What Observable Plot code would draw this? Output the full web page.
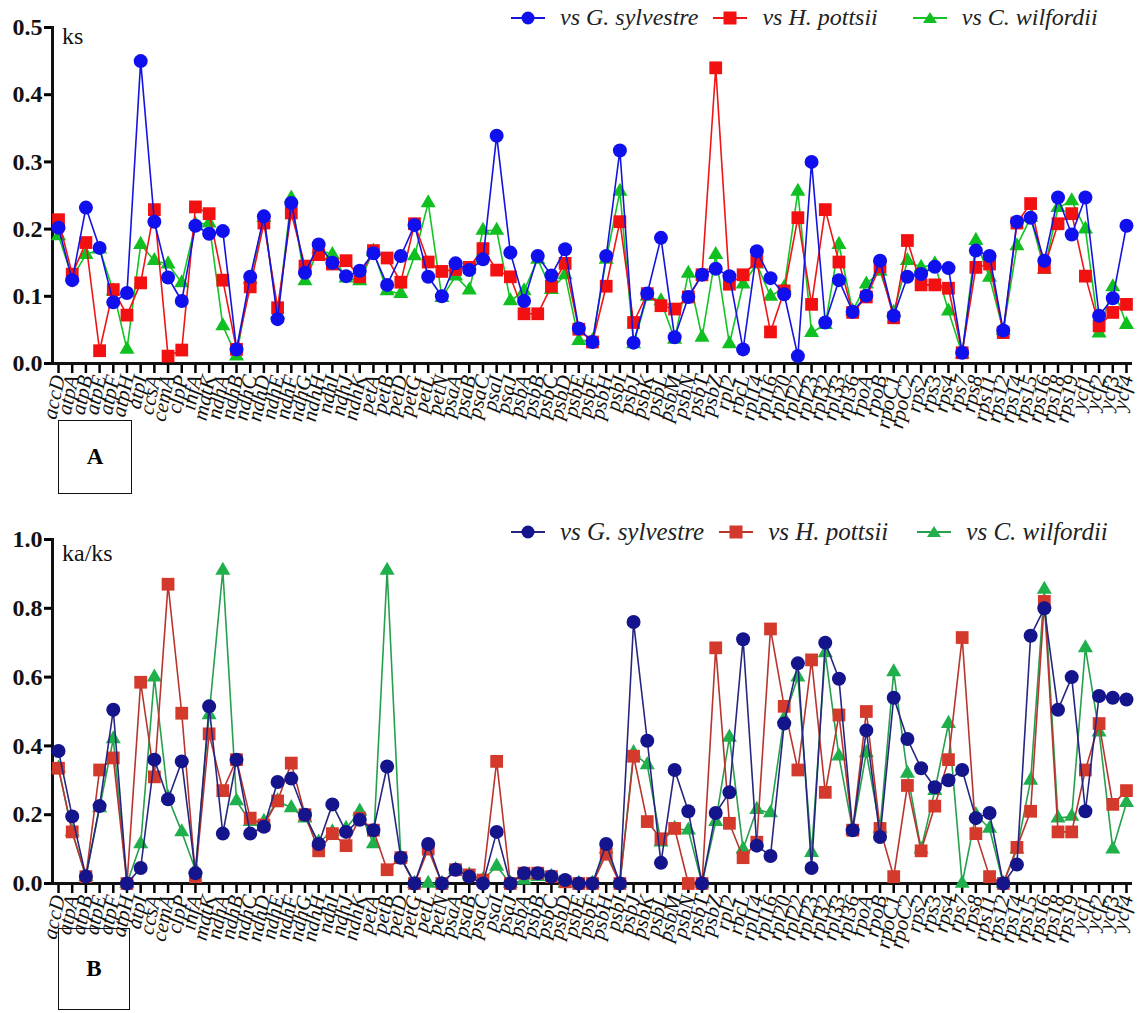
<!DOCTYPE html>
<html><head><meta charset="utf-8">
<script src="https://cdn.jsdelivr.net/npm/d3@7"></script>
<script src="https://cdn.jsdelivr.net/npm/@observablehq/plot@0.6"></script>
<style>
body{margin:0;background:#fff;font-family:"Liberation Serif","Times New Roman",serif;}
#wrap{position:relative;width:1147px;height:1013px;overflow:hidden;background:#fff;}
.panel{position:absolute;left:0;}
.legend{position:absolute;display:flex;align-items:center;font-style:italic;color:#222;white-space:nowrap;}
.legend .item{display:flex;align-items:center;}
.legend svg{margin-right:14px;}
.lab{position:absolute;color:#111;}
.box{position:absolute;border:1.5px solid #111;font-weight:bold;display:flex;align-items:center;justify-content:center;font-size:23px;}
</style></head>
<body><div id="wrap"></div>
<script>
const genes = ["accD","atpA","atpB","atpE","atpF","atpH","atpI","ccsA","cemA","clpP","infA","matK","ndhA","ndhB","ndhC","ndhD","ndhE","ndhF","ndhG","ndhH","ndhI","ndhJ","ndhK","petA","petB","petD","petG","petL","petN","psaA","psaB","psaC","psaI","psaJ","psbA","psbB","psbC","psbD","psbE","psbF","psbH","psbI","psbJ","psbK","psbL","psbM","psbN","psbT","psbZ","rpl2","rbcL","rpl14","rpl16","rpl20","rpl22","rpl23","rpl32","rpl33","rpl36","rpoA","rpoB","rpoC1","rpoC2","rps2","rps3","rps4","rps7","rps8","rps11","rps12","rps14","rps15","rps16","rps18","rps19","ycf1","ycf2","ycf3","ycf4"];

const seriesNames = ["vs G. sylvestre","vs H. pottsii","vs C. wilfordii"];

// Panel A: ks
const ksSylvestre = [0.202,0.124,0.232,0.172,0.091,0.105,0.450,0.211,0.128,0.093,0.205,0.193,0.197,0.021,0.129,0.219,0.066,0.239,0.135,0.177,0.150,0.130,0.138,0.164,0.117,0.160,0.206,0.129,0.100,0.149,0.139,0.155,0.339,0.165,0.093,0.160,0.131,0.170,0.052,0.032,0.160,0.317,0.031,0.104,0.187,0.039,0.099,0.132,0.141,0.130,0.021,0.167,0.127,0.103,0.011,0.300,0.061,0.124,0.077,0.101,0.153,0.071,0.129,0.133,0.144,0.142,0.016,0.168,0.160,0.049,0.211,0.217,0.153,0.247,0.192,0.247,0.071,0.097,0.205];
const ksPottsii = [0.214,0.133,0.180,0.019,0.110,0.072,0.120,0.229,0.011,0.020,0.233,0.223,0.124,0.021,0.114,0.209,0.083,0.224,0.145,0.162,0.148,0.153,0.129,0.168,0.157,0.121,0.208,0.151,0.137,0.140,0.143,0.171,0.139,0.129,0.074,0.074,0.115,0.149,0.051,0.032,0.115,0.211,0.061,0.104,0.086,0.081,0.099,0.132,0.440,0.118,0.132,0.152,0.047,0.108,0.217,0.088,0.229,0.151,0.076,0.099,0.144,0.068,0.183,0.117,0.117,0.112,0.016,0.143,0.148,0.046,0.209,0.238,0.143,0.208,0.223,0.130,0.056,0.076,0.088];
const ksWilfordii = [0.190,0.128,0.162,0.170,0.108,0.021,0.177,0.153,0.148,0.120,0.207,0.209,0.056,0.011,0.125,0.217,0.073,0.246,0.123,0.170,0.162,0.127,0.123,0.167,0.108,0.104,0.160,0.239,0.098,0.130,0.109,0.198,0.198,0.093,0.108,0.155,0.110,0.132,0.034,0.034,0.155,0.256,0.029,0.100,0.093,0.036,0.134,0.039,0.162,0.029,0.118,0.148,0.100,0.113,0.256,0.046,0.058,0.177,0.078,0.118,0.137,0.076,0.153,0.143,0.148,0.078,0.014,0.183,0.128,0.049,0.175,0.217,0.140,0.232,0.242,0.200,0.045,0.114,0.058];

// Panel B: ka/ks
const kaksSylvestre = [0.385,0.195,0.020,0.225,0.505,0.000,0.045,0.360,0.245,0.355,0.030,0.515,0.145,0.360,0.145,0.165,0.295,0.305,0.200,0.115,0.230,0.150,0.185,0.155,0.340,0.075,0.000,0.115,0.000,0.040,0.020,0.000,0.150,0.000,0.030,0.030,0.020,0.010,0.000,0.000,0.115,0.000,0.760,0.415,0.060,0.330,0.210,0.000,0.205,0.265,0.710,0.110,0.080,0.465,0.640,0.045,0.700,0.595,0.155,0.445,0.135,0.540,0.420,0.335,0.280,0.300,0.330,0.190,0.205,0.000,0.055,0.720,0.800,0.505,0.600,0.210,0.545,0.540,0.535];
const kaksPottsii = [0.335,0.150,0.020,0.330,0.365,0.000,0.585,0.310,0.870,0.495,0.020,0.435,0.270,0.360,0.190,0.170,0.240,0.350,0.200,0.095,0.145,0.110,0.190,0.155,0.040,0.075,0.000,0.100,0.000,0.040,0.025,0.010,0.355,0.000,0.030,0.030,0.020,0.005,0.000,0.000,0.085,0.000,0.370,0.180,0.130,0.160,0.000,0.000,0.685,0.175,0.075,0.120,0.740,0.515,0.330,0.650,0.265,0.490,0.155,0.500,0.160,0.020,0.285,0.095,0.225,0.360,0.715,0.145,0.020,0.000,0.105,0.210,0.820,0.150,0.150,0.330,0.465,0.230,0.270];
const kaksWilfordii = [0.335,0.150,0.020,0.220,0.420,0.000,0.115,0.600,0.250,0.150,0.040,0.490,0.910,0.240,0.180,0.180,0.240,0.220,0.190,0.120,0.150,0.160,0.210,0.115,0.910,0.075,0.000,0.000,0.000,0.040,0.025,0.010,0.050,0.000,0.010,0.020,0.020,0.000,0.000,0.000,0.100,0.000,0.380,0.345,0.120,0.160,0.155,0.000,0.180,0.425,0.100,0.215,0.205,0.480,0.600,0.090,0.670,0.370,0.155,0.380,0.160,0.615,0.320,0.100,0.270,0.465,0.000,0.200,0.160,0.000,0.100,0.300,0.855,0.190,0.195,0.685,0.440,0.100,0.235];

const ksTicks = [0,0.1,0.2,0.3,0.4,0.5];
const kaksTicks = [0,0.2,0.4,0.6,0.8,1.0];

const styleA = {
  line: ["#1414e0","#f01414","#14c424"],
  fill: ["#1010ee","#f21010","#10c020"]
};
const styleB = {
  line: ["#262680","#b8352e","#27a04e"],
  fill: ["#14148c","#d43a2c","#1fb04c"]
};
const symbols = ["circle","square","triangle"];
const radii = [7,7.2,5.6];

const FONT = "Liberation Serif, Times New Roman, serif";

function rows(vals){ return genes.map((g,i)=>({gene:g, v:vals[i]})); }

function panel(seriesVals, yDomain, yTicks, style, marginTop){
  const order = [2,1,0];
  const marks = [];
  for (const k of order) {
    const d = rows(seriesVals[k]);
    marks.push(Plot.line(d,{x:"gene",y:"v",stroke:style.line[k],strokeWidth:1.6}));
    marks.push(Plot.dot(d,{x:"gene",y:"v",symbol:()=>symbols[k],r:radii[k],fill:style.fill[k],stroke:"none"}));
  }
  return Plot.plot({
    width:1147, height:445,
    marginLeft:52, marginRight:15, marginTop:marginTop, marginBottom:445-363,
    style:{fontFamily:FONT, background:"transparent", overflow:"visible"},
    x:{type:"point", domain:genes, padding:0.44},
    y:{domain:yDomain},
    symbol:{type:"identity"},
    marks:[
      Plot.axisY({ticks:yTicks, tickFormat:d3.format(".1f"), tickSize:8, tickPadding:2, strokeWidth:3, fontSize:24, fontWeight:"bold", fontFamily:FONT, fill:"#111", label:null}),
      Plot.axisX({tickSize:10, tickPadding:2, strokeWidth:2.5, tickRotate:-78, fontSize:21, fontStyle:"italic", fontFamily:FONT, fill:"#111", label:null}),
      Plot.frame({anchor:"left", strokeWidth:3, stroke:"#111"}),
      Plot.ruleY([0],{strokeWidth:3, stroke:"#111"}),
      ...marks
    ]
  });
}

const wrap = document.getElementById("wrap");

const pA = panel([ksSylvestre,ksPottsii,ksWilfordii],[0,0.5],ksTicks,styleA,27);
pA.classList.add("panel"); pA.style.top="0px";
wrap.appendChild(pA);

const pB = panel([kaksSylvestre,kaksPottsii,kaksWilfordii],[0,1.0],kaksTicks,styleB,19);
pB.classList.add("panel"); pB.style.top="520px";
wrap.appendChild(pB);

function markerSvg(k, style){
  const w=36,h=20,cy=10,cx=18;
  let shape;
  if(k===0) shape=`<circle cx="${cx}" cy="${cy}" r="6.5" fill="${style.fill[k]}"/>`;
  else if(k===1) shape=`<rect x="${cx-6.5}" y="${cy-6.5}" width="13" height="13" fill="${style.fill[k]}"/>`;
  else shape=`<path d="M${cx},${cy-6} L${cx+7},${cy+5} L${cx-7},${cy+5} Z" fill="${style.fill[k]}"/>`;
  return `<svg width="${w}" height="${h}"><line x1="1" x2="${w-1}" y1="${cy}" y2="${cy}" stroke="${style.line[k]}" stroke-width="2"/>${shape}</svg>`;
}

function legend(top, fontSize, style, gaps){
  const el = document.createElement("div");
  el.className="legend";
  el.style.top=top+"px"; el.style.left="510px"; el.style.fontSize=fontSize+"px";
  el.innerHTML = seriesNames.map((n,k)=>`<div class="item" style="margin-right:${gaps[k]}px">${markerSvg(k,style)}<span>${n}</span></div>`).join("");
  wrap.appendChild(el);
}
legend(4, 24, styleA, [14,34,0]);
legend(518, 25, styleB, [14,28,0]);

function label(text, left, top, size){
  const el=document.createElement("div"); el.className="lab";
  el.style.left=left+"px"; el.style.top=top+"px"; el.style.fontSize=size+"px";
  el.textContent=text; wrap.appendChild(el);
}
label("ks", 62, 23, 24);
label("ka/ks", 62, 540, 24);

function box(text,left,top,w,h){
  const el=document.createElement("div"); el.className="box";
  el.style.left=left+"px"; el.style.top=top+"px"; el.style.width=w+"px"; el.style.height=h+"px";
  el.textContent=text; wrap.appendChild(el);
}
box("A",58,420,72,72);
box("B",58,928,70,80);
</script>
</body></html>
